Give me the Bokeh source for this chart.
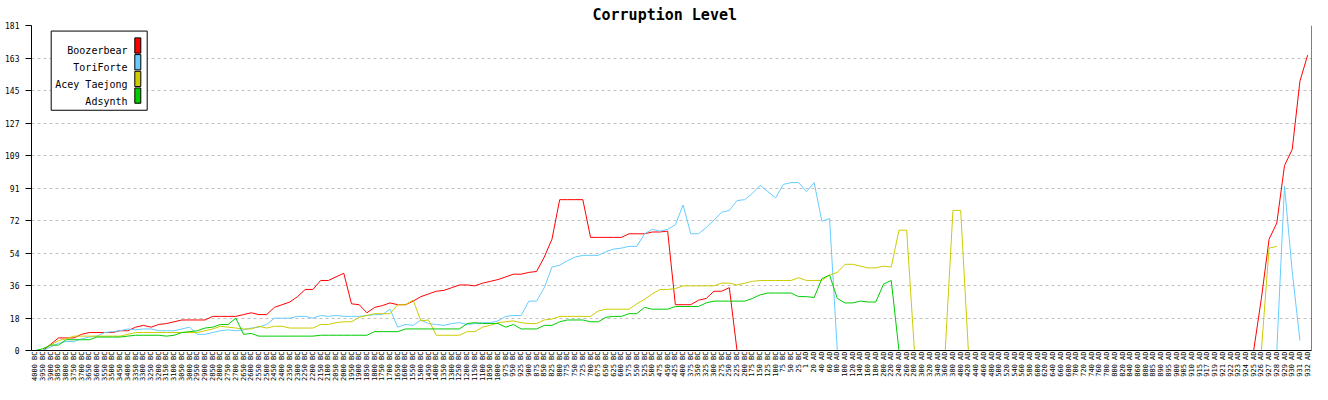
import numpy as np
from bokeh.plotting import figure
from bokeh.models import (ColumnDataSource, FactorRange, Range1d, FixedTicker,
                          CustomJSTickFormatter, Label, BoxAnnotation, Span)
from bokeh.embed import file_html
from bokeh.resources import INLINE

# ---------------- data ----------------
bc_years = list(range(4000, 999, -50)) + list(range(975, 24, -25))
ad_years = ([1] + list(range(20, 861, 20)) + [880] + list(range(885, 916, 5))
            + [917, 919, 921] + list(range(922, 933)))
categories = [f"{y} BC" for y in bc_years] + [f"{y} AD" for y in ad_years]

series_names = ["Boozerbear", "ToriForte", "Acey Taejong", "Adsynth"]
series_colors = ["#ff0000", "#66ccff", "#cccc00", "#00cc00"]

N = None
boozerbear = [
    N, 0, 3.5, 7, 7, 7, 9, 10, 10, 10,
    10, 11, 11, 13, 14, 13, 14.5, 15, 16, 17,
    17, 17, 17, 19, 19, 19, 19, 20, 21, 20,
    20, 24, 25.5, 27, 30, 34, 34, 39, 39, 41,
    43, 26, 25.5, 21, 24, 25, 26.5, 25.5, 25.5, 27.5,
    30, 31.5, 33, 33.5, 35, 36.5, 36.5, 36, 37.5, 38.5,
    39.5, 41, 42.5, 42.5, 43.5, 44, 52, 62, 84, 84,
    84, 84, 63, 63, 63, 63, 63, 65, 65, 65,
    66, 66, 66.5, 25.5, 25.5, 25.5, 28, 29, 33, 33,
    35, 0, 0, 0, 0, 0, 0, 0, 0, 0,
    0, 0, 0, 0, 0, 0, 0, 0, 0, 0,
    0, 0, 0, 0, 0, 0, 0, 0, 0, 0,
    0, 0, 0, 0, 0, 0, 0, 0, 0, 0,
    0, 0, 0, 0, 0, 0, 0, 0, 0, 0,
    0, 0, 0, 0, 0, 0, 0, 0, 0, 0,
    0, 0, 0, 0, 0, 0, 0, 0, 0, 29,
    62, 71, 103, 112, 150, 164.5,
]
toriforte = [
    N, 0, 2, 4, 5, 5, 6.5, 7.5, 8, 10,
    10.5, 11, 12, 11.5, 12, 12, 11, 11, 11, 12,
    13, 9, 9, 10, 11, 11.5, 11, 11.5, 12.5, 13,
    14.5, 18, 18, 18, 19, 19, 18, 19.5, 19, 19.5,
    19, 19, 19, 19.5, 20, 20, 23, 13, 14.5, 14,
    17, 15, 14.5, 14, 15, 15.5, 14.5, 15, 15.5, 15.5,
    16.5, 19, 19.5, 19.5, 27.5, 27.5, 35, 46.5, 47.5, 50,
    52, 53, 53, 53, 55, 56.5, 57, 58, 58, 65,
    67.5, 66.5, 67.5, 70, 81, 65, 65, 68.5, 72.5, 77,
    78, 83.5, 84, 87.5, 92, 88.5, 85, 92.5, 93.5, 93.5,
    88.5, 93.5, 72, 73.5, 0, 0, 0, 0, 0, 0,
    0, 0, 0, 0, 0, 0, 0, 0, 0, 0,
    0, 0, 0, 0, 0, 0, 0, 0, 0, 0,
    0, 0, 0, 0, 0, 0, 0, 0, 0, 0,
    0, 0, 0, 0, 0, 0, 0, 0, 0, 0,
    0, 0, 0, 0, 0, 0, 0, 0, 0, 0,
    0, 0, 91.5, 44, 5.5, N,
]
acey_taejong = [
    N, 1, 3, 5.5, 6.5, 8, 8, 8, 8, 8,
    8, 8, 9, 10, 10, 10, 10, 10, 10, 10,
    10, 10, 11, 12, 13.5, 13, 12.5, 12, 12, 13.5,
    12.5, 13.5, 13.5, 12.5, 12.5, 12.5, 12.5, 14.5, 14.5, 15.5,
    16, 16, 18.5, 19.5, 20.5, 20.5, 20.5, 25.5, 25.5, 28,
    16.5, 17, 8.5, 8.5, 8.5, 8.5, 10.5, 10.5, 13, 14,
    15.5, 16, 16.5, 15.5, 15, 15, 17, 17.5, 19, 19,
    19, 19, 19, 22, 23, 23, 23, 23, 26, 28.5,
    31.5, 34, 34, 34.5, 36, 36, 36, 36, 36, 37.5,
    37.5, 36.5, 37.5, 38.5, 39, 39, 39, 39, 39, 40.5,
    39, 39, 39, 42, 43.5, 48, 48, 47, 46, 46,
    47, 46.5, 67, 67, 0, 0, 0, 0, 0, 78,
    78, 0, 0, 0, 0, 0, 0, 0, 0, 0,
    0, 0, 0, 0, 0, 0, 0, 0, 0, 0,
    0, 0, 0, 0, 0, 0, 0, 0, 0, 0,
    0, 0, 0, 0, 0, 0, 0, 0, 0, 0,
    57, 58, N, N, N, N,
]
adsynth = [
    0, 1, 3, 3, 6, 6, 6, 6, 7.5, 7.5,
    7.5, 7.5, 8, 8.5, 8.5, 8.5, 8.5, 8, 8.5, 10,
    10.5, 11, 12.5, 13, 14.5, 14.5, 18, 9, 9.5, 8,
    8, 8, 8, 8, 8, 8, 8, 8.5, 8.5, 8.5,
    8.5, 8.5, 8.5, 8.5, 10.5, 10.5, 10.5, 10.5, 12, 12,
    12, 12, 12, 12, 12, 12, 15, 15.5, 15, 15,
    15, 13, 14.5, 12, 12, 12, 14, 14, 16, 17,
    17, 17, 16, 16, 18.5, 19, 19, 20.5, 20.5, 24,
    23, 23, 23, 24.5, 24.5, 24.5, 24.5, 26.5, 27.5, 27.5,
    27.5, 27.5, 27.5, 29, 31, 32, 32, 32, 32, 30,
    30, 29.5, 40, 42, 29, 26.5, 26.5, 27.5, 27, 27,
    37, 39, 0, 0, 0, 0, 0, 0, 0, 0,
    0, 0, 0, 0, 0, 0, 0, 0, 0, 0,
    0, 0, 0, 0, 0, 0, 0, 0, 0, 0,
    0, 0, 0, 0, 0, 0, 0, 0, 0, 0,
    0, 0, 0, 0, 0, 0, 0, 0, 0, 0,
    N, N, N, N, N, N,
]
series_values = [boozerbear, toriforte, acey_taejong, adsynth]

y_ticks = [0, 18.1, 36.2, 54.3, 72.4, 90.5, 108.6, 126.7, 144.8, 162.9, 181.0]

# ---------------- figure ----------------
MONO = "DejaVu Sans Mono"
p = figure(width=1312, height=384,
           x_range=FactorRange(factors=categories), y_range=Range1d(0, 181),
           output_backend="svg", toolbar_location=None,
           min_border_left=31, min_border_right=1, min_border_top=25, min_border_bottom=0)
p.outline_line_color = None
p.background_fill_color = "white"
p.border_fill_color = "white"

# title
p.title.text = "Corruption Level"
p.title.text_font = MONO
p.title.text_font_size = "15px"
p.title.text_font_style = "bold"
p.title.text_color = "black"
p.title.align = "left"
p.title.offset = 561
p.title.standoff = 3

# y axis
yt = FixedTicker(ticks=y_ticks)
p.yaxis.ticker = yt
p.yaxis.formatter = CustomJSTickFormatter(code="return Math.round(tick).toString();")
p.yaxis.major_label_text_font = MONO
p.yaxis.major_label_text_font_size = "8px"
p.yaxis.major_label_text_color = "black"
p.yaxis.major_tick_out = 6
p.yaxis.major_tick_in = 0
p.yaxis.major_label_standoff = 6
p.yaxis.minor_tick_line_color = None
p.yaxis.axis_line_color = "black"
p.yaxis.major_tick_line_color = "black"

# x axis
p.xaxis.major_label_orientation = np.pi / 2
p.xaxis.major_label_text_font = MONO
p.xaxis.major_label_text_font_size = "7px"
p.xaxis.major_label_text_color = "black"
p.xaxis.major_tick_line_color = None
p.xaxis.major_tick_out = 0
p.xaxis.major_tick_in = 0
p.xaxis.major_label_standoff = 1
p.xaxis.axis_line_color = "black"

# grid
p.xgrid.grid_line_color = None
p.ygrid.ticker = yt
p.ygrid.grid_line_color = "#c0c0c0"
p.ygrid.grid_line_dash = "3 3"

# right border line of the plot area
p.add_layout(Span(location=len(categories), dimension="height",
                  line_color="black", line_width=1))

# series
for name, color, vals in zip(series_names, series_colors, series_values):
    src = ColumnDataSource(dict(x=categories, y=np.array(vals, dtype=float)))
    p.line(x="x", y="y", source=src, line_color=color, line_width=1)

# legend (drawn manually: labels left, swatches right)
p.add_layout(BoxAnnotation(left=19.7, right=115.7, top=177.9, bottom=133.8,
                           left_units="screen", right_units="screen",
                           fill_color="white", fill_alpha=1.0,
                           line_color="black", line_alpha=1.0, line_width=1))
sw_top = [174.1, 164.8, 155.5, 146.2]
sw_bot = [165.6, 156.3, 147.0, 137.7]
txt_base = [166.9, 157.6, 148.3, 138.9]
for i, (name, color) in enumerate(zip(series_names, series_colors)):
    p.add_layout(BoxAnnotation(left=103.3, right=109.3, top=sw_top[i], bottom=sw_bot[i],
                               left_units="screen", right_units="screen",
                               fill_color=color, fill_alpha=1.0,
                               line_color="black", line_alpha=1.0, line_width=1))
    p.add_layout(Label(x=96, y=txt_base[i], x_units="screen",
                       text=name, text_align="right", text_baseline="alphabetic",
                       text_font=MONO, text_font_size="10px", text_color="black"))

open("out.html", "w").write(file_html(p, INLINE))
